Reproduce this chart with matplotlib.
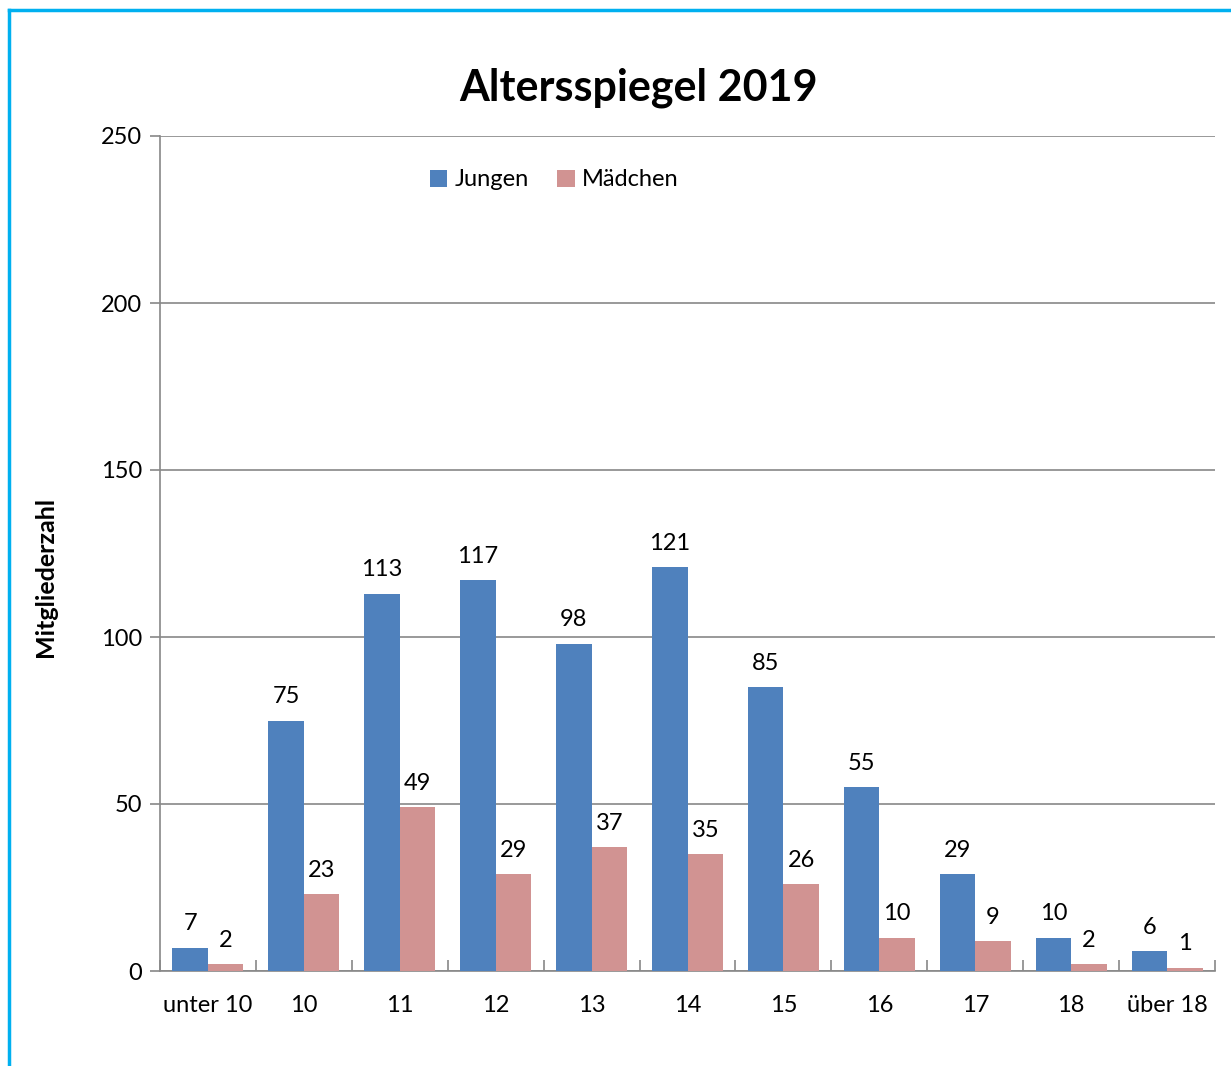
import matplotlib.pyplot as plt
import numpy as np
from matplotlib.lines import Line2D

plt.rcParams['font.family'] = ['Lato', 'DejaVu Sans']

categories = ['unter 10', '10', '11', '12', '13', '14', '15', '16', '17', '18', 'über 18']
jungen = [7, 75, 113, 117, 98, 121, 85, 55, 29, 10, 6]
maedchen = [2, 23, 49, 29, 37, 35, 26, 10, 9, 2, 1]

blue = '#4F81BD'
pink = '#D19392'
grey = '#888888'

fig = plt.figure(figsize=(12.31, 10.66), dpi=100)
ax = fig.add_axes([160/1231, 1 - 971/1066, (1215-160)/1231, (971-136)/1066])

x = np.arange(len(categories))
w = 0.37
ax.bar(x - w/2, jungen, w, color=blue, label='Jungen', zorder=3)
ax.bar(x + w/2, maedchen, w, color=pink, label='Mädchen', zorder=3)

for xi, v in zip(x, jungen):
    ax.text(xi - w/2, v + 4, str(v), ha='center', va='bottom', fontsize=17)
for xi, v in zip(x, maedchen):
    ax.text(xi + w/2, v + 4, str(v), ha='center', va='bottom', fontsize=17)

ax.set_xlim(-0.5, len(categories) - 0.5)
ax.set_ylim(0, 250)
ax.set_yticks(range(0, 251, 50))
ax.yaxis.grid(True, color=grey, linewidth=1.2, zorder=0)
ax.set_xticks(x)
ax.set_xticklabels(categories, fontsize=17)
ax.tick_params(axis='x', length=0, pad=17)
ax.tick_params(axis='y', length=7, width=1.2, color=grey, labelsize=17, pad=6)

# category boundary tick marks pointing up
ax.set_xticks(np.arange(-0.5, len(categories), 1.0), minor=True)
ax.tick_params(axis='x', which='minor', direction='in', length=8, width=1.2, color=grey)

for s in ['top', 'right']:
    ax.spines[s].set_visible(False)
for s in ['left', 'bottom']:
    ax.spines[s].set_color(grey)
    ax.spines[s].set_linewidth(1.2)

ax.set_ylabel('Mitgliederzahl', fontsize=18, fontweight='bold')
ax.yaxis.set_label_coords(-0.098, 0.472)

fig.text(639/1231, 1 - 88/1066, 'Altersspiegel 2019', ha='center', va='center',
         fontsize=31, fontweight='bold')

ax.legend(ncol=2, frameon=False, fontsize=17, loc='center',
          bbox_to_anchor=((554 - 160) / 1055, (971 - 180) / 835),
          handlelength=0.75, handleheight=0.75, handletextpad=0.3, columnspacing=1.2)

# cyan frame around the chart
fig.add_artist(Line2D([9/1231, 9/1231], [0, 1 - 10/1066], color='#00B0F0', linewidth=2.5,
                      transform=fig.transFigure))
fig.add_artist(Line2D([9/1231, 1], [1 - 10/1066, 1 - 10/1066], color='#00B0F0', linewidth=2.5,
                      transform=fig.transFigure))

fig.savefig('out.png', dpi=100)
